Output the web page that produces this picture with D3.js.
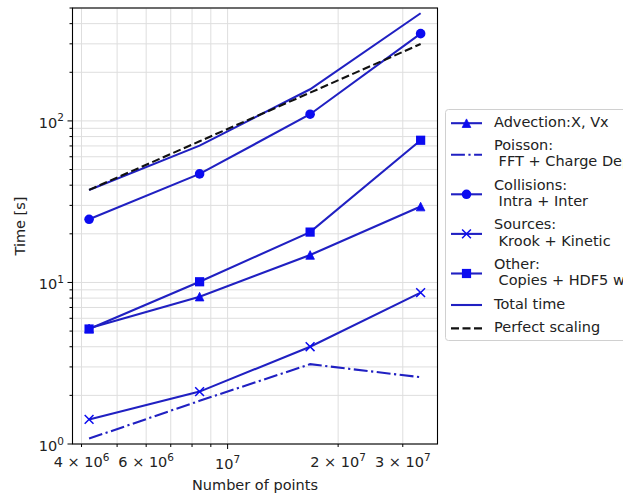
<!DOCTYPE html>
<html>
<head>
<meta charset="utf-8">
<script src="https://cdn.jsdelivr.net/npm/d3@7"></script>
<style>
body { margin: 0; background: #fff; }
text { font-family: "DejaVu Sans", sans-serif; fill: #222; }
</style>
</head>
<body>
<svg id="chart" width="623" height="496"></svg>
<script>
// number of points per run
var points = [4194304, 8388608, 16777216, 33554432];

// timings [s]
var advection  = [5.2, 8.17, 14.8, 29.5];
var poisson    = [1.08, 1.85, 3.12, 2.59];
var collisions = [24.6, 47, 110, 347];
var sources    = [1.42, 2.11, 4.0, 8.65];
var other      = [5.15, 10.1, 20.5, 75.9];
var total      = [37.4, 70.3, 157, 464];
var perfect    = [37.4, 74.8, 149.6, 299.2];

var seriesNames = ["Advection:X, Vx", "Poisson:\n FFT + Charge Deposition", "Collisions:\n Intra + Inter",
	"Sources:\n Krook + Kinetic", "Other:\n Copies + HDF5 writing", "Total time", "Perfect scaling"];

var xMajor = [1e7];
var xMinor = [4e6, 5e6, 6e6, 7e6, 8e6, 9e6, 2e7, 3e7];
var xLabelAt = [4e6, 6e6, 1e7, 2e7, 3e7];
var xLabelMant = ["4 × 10", "6 × 10", "10", "2 × 10", "3 × 10"];
var xLabelExp = ["6", "6", "7", "7", "7"];

var yMajor = [1, 10, 100];
var yLabelExp = ["0", "1", "2"];

var svg = d3.select("#chart");
var pLeft = 72.5, pRight = 437.5, pTop = 8, pBottom = 444;
var lineCol = "#2020c2", markCol = "#0b0bf0";
var fs = 14.5, lw = 2.1;

var x = d3.scaleLog().domain([3.78e6, 3.73e7]).range([pLeft, pRight]);
var y = d3.scaleLog().domain([1, 500]).range([pBottom, pTop]);

var yMinor = [];
[1, 10, 100].forEach(function(d) {
	for (var k = 2; k <= 9; k++) if (d*k <= 500) yMinor.push(d*k);
});

// grid
var grid = svg.append("g");
xMajor.concat(xMinor).forEach(function(v) {
	grid.append("line").attr("x1", x(v)).attr("x2", x(v)).attr("y1", pTop).attr("y2", pBottom)
		.attr("stroke", "#dedede").attr("stroke-width", 1);
});
yMajor.concat(yMinor).forEach(function(v) {
	grid.append("line").attr("x1", pLeft).attr("x2", pRight).attr("y1", y(v)).attr("y2", y(v))
		.attr("stroke", "#dedede").attr("stroke-width", 1);
});

var series = [
	{vals: advection, marker: "tri", dash: null, col: lineCol},
	{vals: poisson, marker: null, dash: "13.9,3.5,2.2,3.5", col: lineCol},
	{vals: collisions, marker: "circle", dash: null, col: lineCol},
	{vals: sources, marker: "x", dash: null, col: lineCol},
	{vals: other, marker: "square", dash: null, col: lineCol},
	{vals: total, marker: null, dash: null, col: lineCol},
	{vals: perfect, marker: null, dash: "8,3.5", col: "#111"}
];

var line = d3.line().x(function(d) { return x(d[0]); }).y(function(d) { return y(d[1]); });

function drawMarker(g, type, cx, cy) {
	if (type == "circle") {
		g.append("circle").attr("cx", cx).attr("cy", cy).attr("r", 4.8).attr("fill", markCol);
	} else if (type == "square") {
		g.append("rect").attr("x", cx - 4.6).attr("y", cy - 4.6).attr("width", 9.2).attr("height", 9.2).attr("fill", markCol);
	} else if (type == "tri") {
		var t = 4.3;
		g.append("path")
			.attr("d", "M" + cx + "," + (cy - t) + "L" + (cx - t) + "," + (cy + t) + "L" + (cx + t) + "," + (cy + t) + "Z")
			.attr("fill", markCol).attr("stroke", markCol).attr("stroke-width", 0.8);
	} else if (type == "x") {
		var s = 4.4;
		g.append("path")
			.attr("d", "M" + (cx-s) + "," + (cy-s) + "L" + (cx+s) + "," + (cy+s) + "M" + (cx-s) + "," + (cy+s) + "L" + (cx+s) + "," + (cy-s))
			.attr("stroke", markCol).attr("stroke-width", 1.5).attr("fill", "none");
	}
}

var plot = svg.append("g");
series.forEach(function(s) {
	var pts = points.map(function(p, i) { return [p, s.vals[i]]; });
	plot.append("path").datum(pts).attr("d", line)
		.attr("fill", "none").attr("stroke", s.col).attr("stroke-width", lw)
		.attr("stroke-dasharray", s.dash);
	if (s.marker) pts.forEach(function(d) { drawMarker(plot, s.marker, x(d[0]), y(d[1])); });
});

// spines
svg.append("rect").attr("x", pLeft).attr("y", pTop).attr("width", pRight - pLeft).attr("height", pBottom - pTop)
	.attr("fill", "none").attr("stroke", "#000").attr("stroke-width", 1.1);

// ticks
var ax = svg.append("g");
xMajor.forEach(function(v) {
	ax.append("line").attr("x1", x(v)).attr("x2", x(v)).attr("y1", pBottom).attr("y2", pBottom + 5).attr("stroke", "#000");
});
xMinor.forEach(function(v) {
	ax.append("line").attr("x1", x(v)).attr("x2", x(v)).attr("y1", pBottom).attr("y2", pBottom + 3).attr("stroke", "#000");
});
yMajor.forEach(function(v) {
	ax.append("line").attr("x1", pLeft - 5).attr("x2", pLeft).attr("y1", y(v)).attr("y2", y(v)).attr("stroke", "#000");
});
yMinor.forEach(function(v) {
	ax.append("line").attr("x1", pLeft - 3).attr("x2", pLeft).attr("y1", y(v)).attr("y2", y(v)).attr("stroke", "#000");
});

xLabelAt.forEach(function(v, i) {
	var major = xMajor.indexOf(v) > -1;
	var t = ax.append("text").attr("x", x(v)).attr("y", pBottom + (major ? 25 : 23))
		.attr("text-anchor", "middle").attr("font-size", fs);
	t.append("tspan").text(xLabelMant[i]);
	t.append("tspan").attr("dy", -6.5).attr("font-size", 10.5).text(xLabelExp[i]);
});
yMajor.forEach(function(v, i) {
	var t = ax.append("text").attr("x", 64).attr("y", y(v) + 7)
		.attr("text-anchor", "end").attr("font-size", fs);
	t.append("tspan").text("10");
	t.append("tspan").attr("dy", -6.5).attr("font-size", 10.5).text(yLabelExp[i]);
});

svg.append("text").attr("x", (pLeft + pRight)/2).attr("y", 490).attr("text-anchor", "middle")
	.attr("font-size", fs).text("Number of points");
svg.append("text").attr("transform", "translate(25," + ((pTop + pBottom)/2) + ") rotate(-90)")
	.attr("text-anchor", "middle").attr("font-size", fs).text("Time [s]");

// legend
var leg = svg.append("g");
leg.append("rect").attr("x", 445.5).attr("y", 109.5).attr("width", 200).attr("height", 231).attr("rx", 3)
	.attr("fill", "#fff").attr("stroke", "#d0d0d0");
var base = 126.7, lh = 16.2, step = 23.4;
series.forEach(function(s, i) {
	var lines = seriesNames[i].split("\n");
	var cy = base - 5 + (lines.length - 1) * lh / 2 + 1.5;
	leg.append("line").attr("x1", 451).attr("x2", 482).attr("y1", cy).attr("y2", cy)
		.attr("stroke", s.col).attr("stroke-width", lw).attr("stroke-dasharray", s.dash);
	if (s.marker) drawMarker(leg, s.marker, 466.5, cy);
	lines.forEach(function(l, j) {
		leg.append("text").attr("x", 494).attr("y", base + j*lh)
			.attr("font-size", fs).style("white-space", "pre").text(l);
	});
	base += (lines.length - 1) * lh + step;
});
</script>
</body>
</html>
